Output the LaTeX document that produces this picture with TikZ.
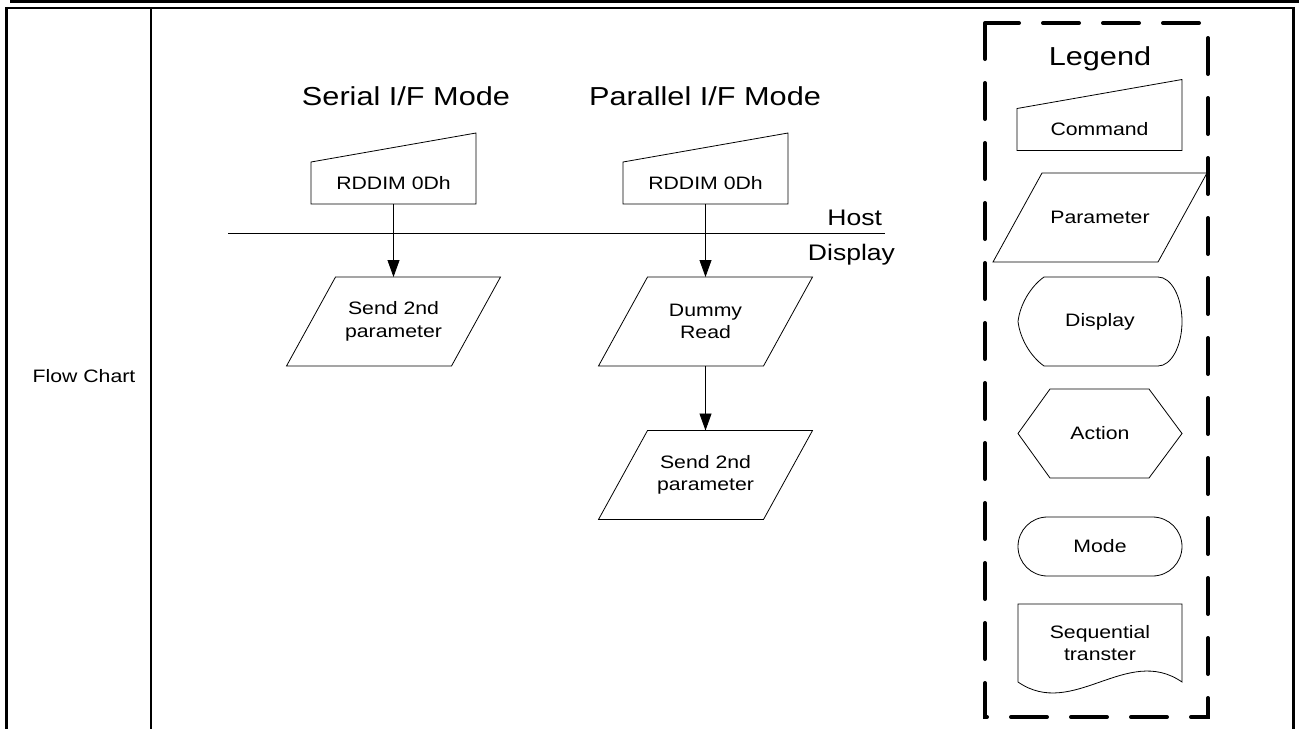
\documentclass[tikz,border=0pt]{standalone}
\usepackage{fontspec}
\setmainfont{Liberation Sans}[FakeStretch=1.18]
\usetikzlibrary{arrows.meta}

\newcommand{\smallsz}{\fontsize{18}{22.5}\selectfont}
\newcommand{\headsz}{\fontsize{26}{30}\selectfont}
\newcommand{\sidesz}{\fontsize{22.5}{26}\selectfont}

\begin{document}
\begin{tikzpicture}[x=1pt,y=-1pt,line width=0.8pt,
  every node/.style={inner sep=0pt,outer sep=0pt,font=\smallsz,align=center},
  cmdbox/.style={minimum width=165pt,minimum height=42pt},
  parbox/.style={minimum width=165pt,minimum height=89pt},
  legbox/.style={minimum width=164pt,minimum height=89pt},
  flow/.style={-{Triangle[length=17pt,width=12pt]}},
  heading/.style={anchor=base,font=\headsz}]
  \useasboundingbox (0,0) rectangle (1299,729);

  % table frame
  \draw[line width=3pt] (10,1.5) -- (1299,1.5);
  \draw[line width=2.5pt] (5,8) -- (1295,8);
  \draw[line width=3pt] (6.5,6.8) -- (6.5,729);
  \draw[line width=2pt] (151,8) -- (151,729);
  \draw[line width=3pt] (1293.5,6.8) -- (1293.5,729);
  \node[anchor=base] (flowchart) at (84,382) {Flow Chart};

  % host / display split
  \draw (228,233) -- (885,233);
  \node[anchor=base east,font=\sidesz] (host) at (882,225) {Host};
  \node[anchor=base east,font=\sidesz] (disp) at (895,260) {Display};

  % the two interface modes
  \node[heading] (serhead) at (406,105) {Serial I/F Mode};
  \node[heading] (parhead) at (705,105) {Parallel I/F Mode};
  \node[cmdbox] (scmd) at (393.5,183) {RDDIM 0Dh};
  \node[cmdbox] (pcmd) at (705.5,183) {RDDIM 0Dh};
  \node[parbox] (spar) at (393.5,321.5) {Send 2nd\\parameter};
  \node[parbox] (pdum) at (705.5,321.5) {Dummy\\Read};
  \node[parbox] (psend) at (705.5,475) {Send 2nd\\parameter};
  \draw[flow] (scmd) -- (spar);
  \draw[flow] (pcmd) -- (pdum);
  \draw[flow] (pdum) -- (psend);

  % legend
  \draw[line width=4pt,dash pattern=on 36pt off 24pt,line cap=round] (985,23) rectangle (1208,717);
  \node[heading] (leghead) at (1100,65) {Legend};
  \node[cmdbox] (lcmd) at (1099.5,129.5) {Command};
  \node[parbox] (lpar) at (1100,217.5) {Parameter};
  \node[legbox] (ldisp) at (1100,321.5) {Display};
  \node[legbox] (lact) at (1100,433.5) {Action};
  \node[legbox,minimum height=59pt,draw,rounded corners=29.5pt] (lmode) at (1100,546.5) {Mode};
  \node[legbox,minimum height=78pt] (lseq) at (1100,643) {Sequential\\transter};

  % outlines of the symbols
  \foreach \n in {scmd,pcmd,lcmd}
    \draw (\n.south west) -- (\n.north west) -- ([yshift=29pt]\n.north east) -- (\n.south east) -- cycle;
  \foreach \n in {spar,pdum,psend,lpar}
    \draw ([xshift=-24.5pt]\n.south west) -- ([xshift=24.5pt]\n.north west)
      -- ([xshift=24.5pt]\n.north east) -- ([xshift=-24.5pt]\n.south east) -- cycle;
  \draw ([xshift=26pt]ldisp.north west) -- ([xshift=-24pt]ldisp.north east)
    arc[start angle=90,end angle=-90,x radius=24pt,y radius=44.5pt]
    -- ([xshift=26pt]ldisp.south west)
    .. controls ([xshift=12pt,yshift=10pt]ldisp.south west) and ([xshift=2pt,yshift=28pt]ldisp.south west) .. (ldisp.west)
    .. controls ([xshift=2pt,yshift=-28pt]ldisp.north west) and ([xshift=12pt,yshift=-10pt]ldisp.north west) .. ([xshift=26pt]ldisp.north west)
    -- cycle;
  \draw (lact.west) -- ([xshift=32pt]lact.north west) -- ([xshift=-33pt]lact.north east)
    -- (lact.east) -- ([xshift=-33pt]lact.south east) -- ([xshift=32pt]lact.south west) -- cycle;
  \draw (lseq.south west) -- (lseq.north west) -- (lseq.north east) -- (lseq.south east)
    .. controls ([xshift=-55pt,yshift=38pt]lseq.south east) and ([xshift=55pt,yshift=-38pt]lseq.south west) .. (lseq.south west)
    -- cycle;
\end{tikzpicture}
\end{document}
